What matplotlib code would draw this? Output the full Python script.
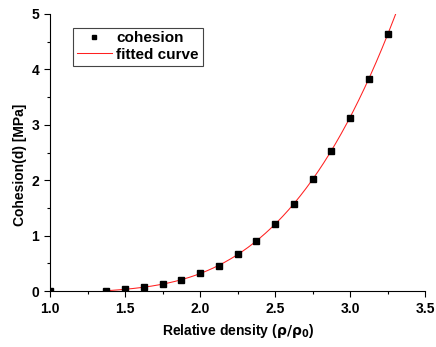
import numpy as np
import matplotlib
matplotlib.use("Agg")
import matplotlib.pyplot as plt
from matplotlib.ticker import MultipleLocator

plt.rcParams['font.family'] = ['Liberation Sans', 'DejaVu Sans']
plt.rcParams['font.weight'] = 'bold'

# measured cohesion vs relative density
density = [1.0, 1.375, 1.5, 1.625, 1.75, 1.875, 2.0, 2.125, 2.25, 2.375,
           2.5, 2.625, 2.75, 2.875, 3.0, 3.125, 3.25]
cohesion = [0.0, 0.01, 0.03, 0.07, 0.13, 0.20, 0.32, 0.46, 0.67, 0.90,
            1.21, 1.58, 2.02, 2.53, 3.13, 3.83, 4.63]
fit_range = (1.375, 3.31)

# fitted curve from the data (cubic fit on points above 1.0)
coef = np.polyfit(density[1:], cohesion[1:], 3)
xf = np.linspace(*fit_range, 200)
yf = np.polyval(coef, xf)

fig = plt.figure(figsize=(4.36, 3.47), dpi=100)
ax = fig.add_axes([0.115, 0.161, 0.86, 0.799])
ax.plot(xf, yf, color="#ff2020", lw=0.75, label="fitted curve", zorder=2)
ax.plot(density, cohesion, "s", color="black", ms=4, label="cohesion", zorder=3)

ax.set_xlim(1.0, 3.5); ax.set_ylim(0, 5)
ax.xaxis.set_major_locator(MultipleLocator(0.5)); ax.xaxis.set_minor_locator(MultipleLocator(0.25))
ax.yaxis.set_major_locator(MultipleLocator(1)); ax.yaxis.set_minor_locator(MultipleLocator(0.5))
ax.xaxis.set_major_formatter(plt.FormatStrFormatter("%.1f"))
ax.tick_params(which="both", direction="out", labelsize=10, width=0.8)
ax.tick_params(which="major", length=4, pad=4); ax.tick_params(which="minor", length=2.5)
for s in ["top", "right"]:
    ax.spines[s].set_visible(False)

ax.set_xlabel(r"Relative density ($\mathbf{\rho/\rho_0}$)", fontsize=10, fontweight="bold")
ax.set_ylabel("Cohesion(d) [MPa]", fontsize=10, fontweight="bold")
ax.yaxis.set_label_coords(-0.062, 0.457)

h, l = ax.get_legend_handles_labels()
leg = ax.legend(h[::-1], l[::-1], loc="upper left", bbox_to_anchor=(0.04, 0.978), fancybox=False,
                edgecolor="#444444", framealpha=1, fontsize=11, handlelength=2.3, borderpad=0.25,
                labelspacing=0.15, handletextpad=0.3, numpoints=1, markerscale=0.8)
leg.get_frame().set_linewidth(0.8)

plt.savefig("out.png", dpi=100)
